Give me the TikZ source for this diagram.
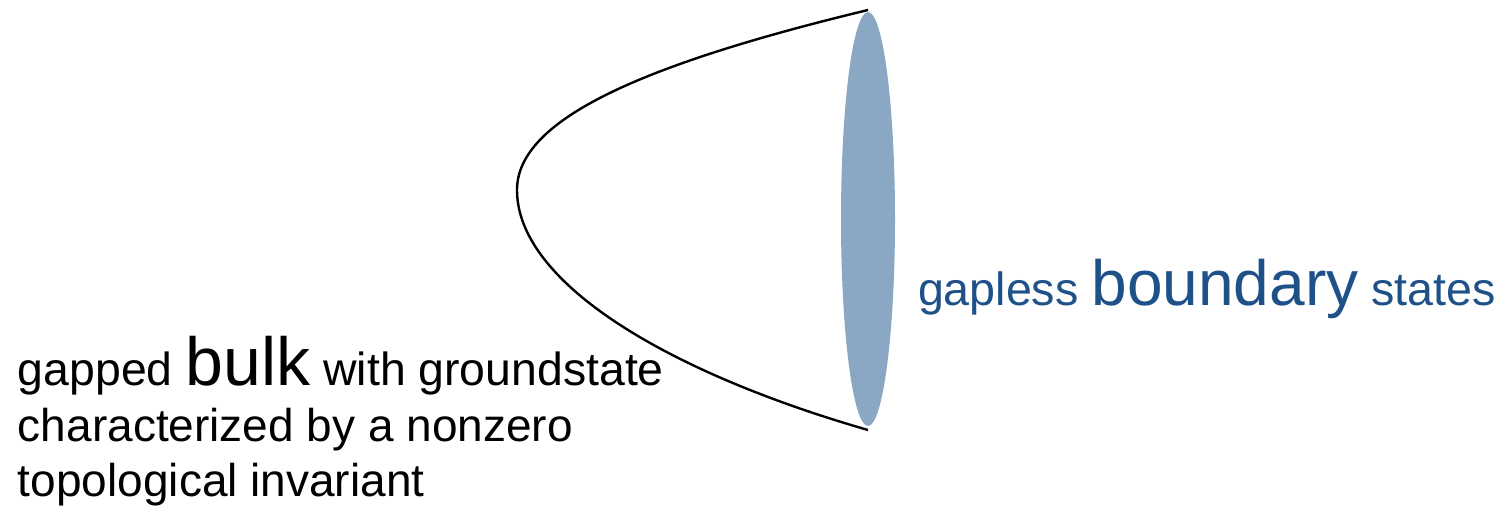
\documentclass[tikz,border=0pt]{standalone}
\usepackage{fontspec}
\setmainfont{Liberation Sans}
\usetikzlibrary{shapes.geometric}
\definecolor{edgefill}{HTML}{8AA8C4}
\definecolor{edgetext}{HTML}{1F5189}
\begin{document}
\begin{tikzpicture}[x=0.5pt,y=-0.5pt,
  lbl/.style={anchor=base west,inner sep=0pt,outer sep=0pt},
  small/.style={font=\fontsize{23}{25}\selectfont},
  curve/.style={draw=black,line width=1.2pt}]
\useasboundingbox (0,0) rectangle (1499,514);
\coordinate (top) at (868,10);
\coordinate (tip) at (517,190);
\coordinate (bot) at (868,430);
\draw[curve] (top) .. controls (640,65) and (517,120) .. (tip)
  .. controls (517,280) and (660,370) .. (bot);
\node[ellipse,fill=edgefill,minimum width=27pt,minimum height=207pt,inner sep=0pt] (edge) at (868,219) {};
\node[lbl,text=edgetext] (right) at (918,305) {\fontsize{23.3}{25}\selectfont gapless\ \fontsize{32}{34}\selectfont boundary\fontsize{23.3}{25}\selectfont\ states};
\node[lbl] (l1) at (18,385) {\fontsize{23.2}{25}\selectfont gapped\ \fontsize{34}{36}\selectfont bulk\fontsize{23.2}{25}\selectfont\ with groundstate};
\node[lbl,small] (l2) at (18,441) {characterized by a nonzero};
\node[lbl,small] (l3) at (18,496) {topological invariant};
\end{tikzpicture}
\end{document}
